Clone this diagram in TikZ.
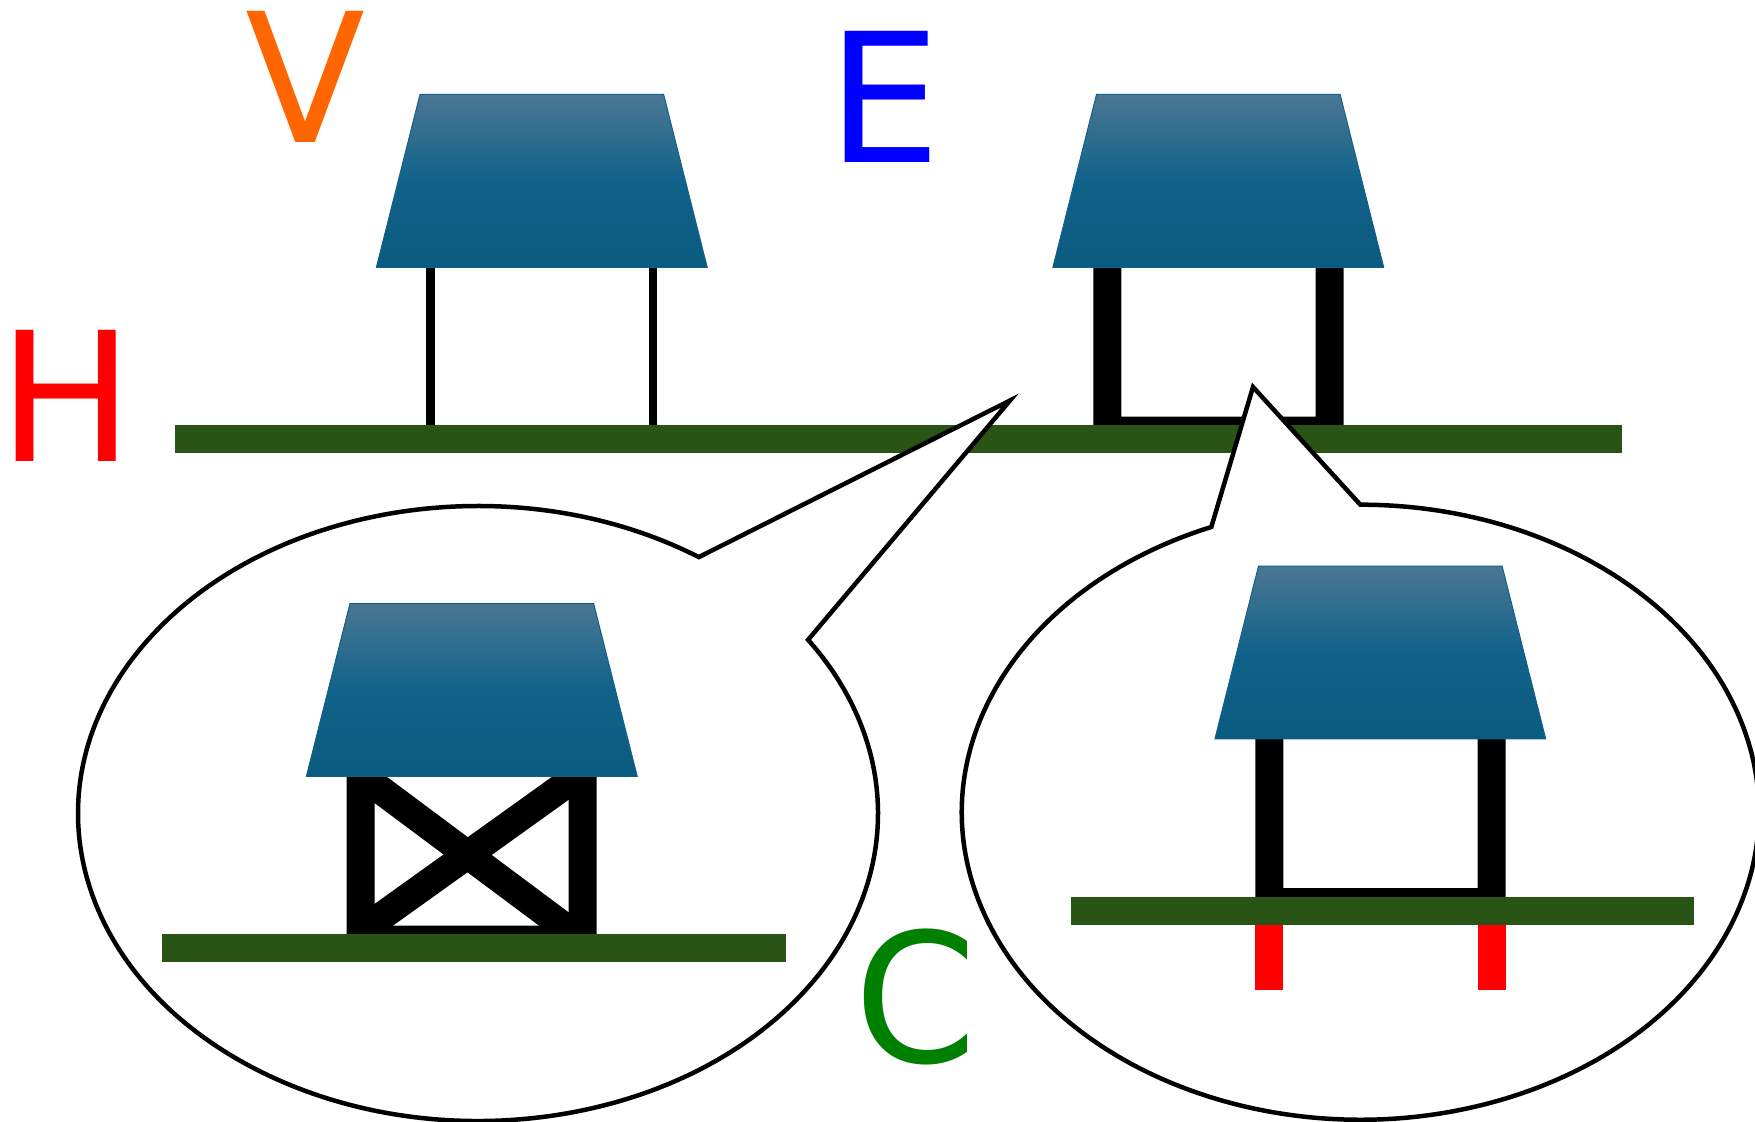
\documentclass[tikz,border=0pt]{standalone}
\usepackage{fontspec}
\setmainfont{DejaVu Sans}
\definecolor{groundgreen}{HTML}{2A5316}
\definecolor{rooftop}{HTML}{4A7793}
\definecolor{roofmid}{HTML}{11628A}
\definecolor{roofbot}{HTML}{0B5A7F}
\definecolor{roofedge}{HTML}{11628A}
\definecolor{vorange}{HTML}{FF6600}
\definecolor{cgreen}{HTML}{008000}
\tikzset{
  roofshape/.style={draw=roofedge,line width=1pt,line join=miter,top color=rooftop,bottom color=roofbot,middle color=roofmid},
  ground/.style={fill=groundgreen,draw=none},
  thinpole/.style={fill=black,draw=none},
  thickpole/.style={fill=black,draw=none},
  redpole/.style={fill=red,draw=none},
  brace/.style={line width=28.4pt,line cap=butt,draw=black},
  callout/.style={draw=black,fill=white,line width=4.5pt,line join=miter,miter limit=10},
  letter/.style={inner sep=0pt,outer sep=0pt,anchor=base,font=\fontsize{180}{180}\selectfont},
  narrowletter/.style={letter,xscale=0.975},
  roof/.pic={\path[roofshape] (420,94.5) -- (663.6,94.5) -- (707.2,267.3) -- (376.4,267.3) -- cycle;},
}
\begin{document}
\begin{tikzpicture}[x=1pt,y=-1pt]
\clip (0,0) rectangle (1755,1121);
\fill[white] (0,0) rectangle (1755,1121);
% top scene
\fill[thinpole] (426.3,267) rectangle (435,426);
\fill[thinpole] (648.7,267) rectangle (657.2,426);
\fill[thickpole] (1093.3,267) -- (1121.3,267) -- (1121.3,416.7) -- (1315.7,416.7) -- (1315.7,267) -- (1343.7,267) -- (1343.7,426) -- (1093.3,426) -- cycle;
\fill[ground] (174.6,425.3) rectangle (1622,453.3);
\pic at (0,0) {roof};
\pic at (676.5,0) {roof};
% callouts
\path[callout] (698.8,557.1) arc[start angle=56.5,end angle=394.4,x radius=400pt,y radius=307.5pt] -- (1010,400.5) -- cycle;
\path[callout] (1211.3,527) arc[start angle=111.96,end angle=450,x radius=398.5pt,y radius=307.5pt] -- (1253,387) -- cycle;
% left bubble scene
\draw[brace] (360.7,775) -- (582.7,940.5);
\draw[brace] (360.7,931.3) -- (582.7,772.3);
\fill[thickpole] (346.7,776) -- (374.7,776) -- (374.7,925.7) -- (568.7,925.7) -- (568.7,776) -- (596.7,776) -- (596.7,935) -- (346.7,935) -- cycle;
\fill[ground] (162.3,934) rectangle (786,962.3);
\pic at (-70,509) {roof};
% right bubble scene
\fill[thickpole] (1255.3,738) -- (1283.3,738) -- (1283.3,888) -- (1477.7,888) -- (1477.7,738) -- (1505.7,738) -- (1505.7,898) -- (1255.3,898) -- cycle;
\fill[redpole] (1255.3,924) rectangle (1283.3,990);
\fill[redpole] (1477.7,924) rectangle (1505.7,990);
\fill[ground] (1071,896.7) rectangle (1694.3,925);
\pic at (838.5,471.6) {roof};
% letters
\node[narrowletter,text=vorange] (letterV) at (305.6,142.5) {V};
\node[letter,text=blue] (letterE) at (884.5,162.6) {E};
\node[letter,text=red] (letterH) at (66.5,461) {H};
\node[narrowletter,text=cgreen] (letterC) at (915.5,1062) {C};
\end{tikzpicture}
\end{document}
